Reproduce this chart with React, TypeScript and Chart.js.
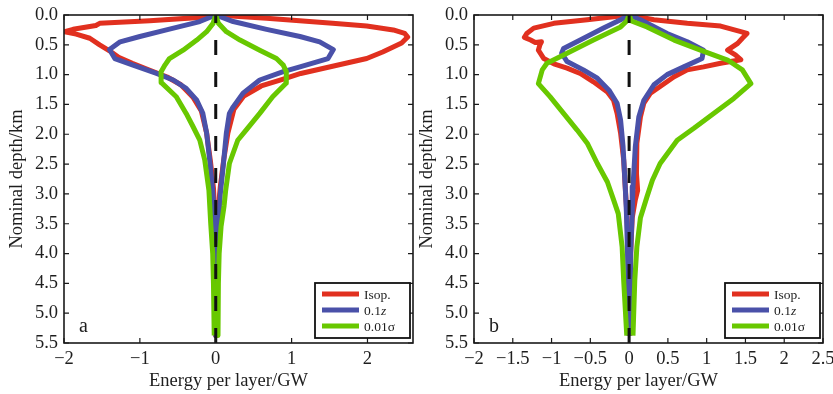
import React, { useEffect, useRef } from "react";
import { Chart, registerables } from "chart.js";

Chart.register(...registerables);

// Each point is [energy per layer (GW), nominal depth (km)].
type Pt = [number, number];

const seriesLabels: string[][] = [["Isop."], ["0.1", "z"], ["0.01σ"]]; // odd parts are italic
const seriesColors = ["#e1301f", "#4a51a9", "#68c800"];

const depthTicks = [0, 0.5, 1, 1.5, 2, 2.5, 3, 3.5, 4, 4.5, 5, 5.5];
const depthRange = [0, 5.5];
const energyTicksA = [-2, -1, 0, 1, 2];
const energyTicksB = [-2, -1.5, -1, -0.5, 0, 0.5, 1, 1.5, 2, 2.5];
const energyRangeA = [-2, 2.6];
const energyRangeB = [-2, 2.5];
const zeroLine: Pt[] = [[0, 0], [0, 5.5]];

// Panel a
const isopLossA: Pt[] = [[0, 0], [-0.21, 0.04], [-0.87, 0.095], [-1.53, 0.14], [-1.58, 0.175], [-1.88, 0.24], [-1.99, 0.28], [-1.84, 0.32], [-1.66, 0.39], [-1.53, 0.5], [-1.4, 0.6], [-1.28, 0.71], [-1.1, 0.81], [-0.86, 0.93], [-0.64, 1.04], [-0.46, 1.17], [-0.3, 1.38], [-0.19, 1.61], [-0.12, 1.98], [-0.07, 2.45], [-0.03, 2.9], [-0.01, 3.4], [0, 4.0], [0, 5.375]];
const isopGainA: Pt[] = [[0, 0], [0.67, 0.056], [1.54, 0.14], [1.99, 0.185], [2.34, 0.25], [2.49, 0.31], [2.53, 0.37], [2.45, 0.47], [2.2, 0.62], [1.99, 0.73], [1.54, 0.86], [1.12, 0.98], [0.88, 1.08], [0.6, 1.19], [0.37, 1.36], [0.24, 1.58], [0.16, 1.98], [0.105, 2.43], [0.06, 2.88], [0.03, 3.3], [0.02, 3.9], [0.01, 4.5], [0.01, 5.375]];
const zLossA: Pt[] = [[0, 0], [-0.21, 0.11], [-0.65, 0.25], [-1.0, 0.36], [-1.26, 0.45], [-1.4, 0.58], [-1.33, 0.73], [-1.09, 0.84], [-0.78, 0.98], [-0.56, 1.09], [-0.39, 1.23], [-0.25, 1.43], [-0.17, 1.65], [-0.12, 1.98], [-0.08, 2.43], [-0.045, 2.88], [-0.02, 3.3], [-0.01, 3.8], [0, 4.5], [0, 5.375]];
const zGainA: Pt[] = [[0, 0], [0.23, 0.11], [0.67, 0.24], [1.11, 0.36], [1.37, 0.45], [1.55, 0.58], [1.48, 0.73], [1.11, 0.87], [0.89, 0.95], [0.58, 1.09], [0.36, 1.31], [0.23, 1.54], [0.18, 1.65], [0.14, 1.98], [0.097, 2.55], [0.06, 3.0], [0.045, 3.4], [0.03, 3.8], [0.02, 4.5], [0.01, 5.375]];
const sigmaLossA: Pt[] = [[0, 0], [-0.02, 0.08], [-0.035, 0.14], [-0.12, 0.28], [-0.25, 0.42], [-0.43, 0.59], [-0.61, 0.73], [-0.67, 0.84], [-0.72, 0.95], [-0.72, 1.13], [-0.52, 1.37], [-0.39, 1.65], [-0.3, 1.87], [-0.21, 2.1], [-0.145, 2.43], [-0.09, 2.94], [-0.066, 3.5], [-0.04, 4.0], [-0.03, 4.5], [-0.02, 5.375]];
const sigmaGainA: Pt[] = [[0, 0], [0.02, 0.08], [0.035, 0.14], [0.14, 0.28], [0.32, 0.42], [0.58, 0.59], [0.8, 0.73], [0.89, 0.84], [0.93, 0.95], [0.93, 1.14], [0.75, 1.37], [0.58, 1.65], [0.4, 1.93], [0.29, 2.1], [0.18, 2.49], [0.13, 2.95], [0.11, 3.2], [0.07, 3.55], [0.045, 4.0], [0.035, 4.5], [0.03, 5.375]];

// Panel b
const isopLossB: Pt[] = [[0, 0], [-0.54, 0.08], [-0.97, 0.14], [-1.23, 0.22], [-1.32, 0.31], [-1.35, 0.375], [-1.27, 0.42], [-1.21, 0.46], [-1.13, 0.45], [-1.15, 0.5], [-1.17, 0.59], [-1.1, 0.73], [-0.97, 0.82], [-0.8, 0.89], [-0.63, 0.98], [-0.46, 1.12], [-0.28, 1.29], [-0.2, 1.43], [-0.155, 1.65], [-0.11, 1.98], [-0.07, 2.43], [-0.05, 2.88], [-0.03, 3.3], [-0.01, 4.0], [0, 5.375]];
const isopGainB: Pt[] = [[0, 0], [0.32, 0.08], [0.75, 0.14], [1.18, 0.185], [1.44, 0.28], [1.52, 0.31], [1.46, 0.39], [1.4, 0.475], [1.27, 0.59], [1.37, 0.67], [1.44, 0.75], [1.18, 0.81], [0.96, 0.87], [0.75, 0.92], [0.58, 1.035], [0.4, 1.2], [0.275, 1.31], [0.19, 1.48], [0.146, 1.71], [0.1, 2.15], [0.095, 2.66], [0.11, 2.94], [0.08, 3.1], [0.04, 3.4], [0.02, 4.0], [0.01, 5.375]];
const zLossB: Pt[] = [[0, 0], [-0.11, 0.08], [-0.33, 0.22], [-0.63, 0.42], [-0.845, 0.56], [-0.87, 0.64], [-0.8, 0.78], [-0.59, 0.92], [-0.41, 1.06], [-0.26, 1.26], [-0.155, 1.48], [-0.11, 1.76], [-0.078, 2.21], [-0.05, 2.88], [-0.035, 3.3], [-0.02, 4.0], [-0.005, 5.375]];
const zGainB: Pt[] = [[0, 0], [0.146, 0.08], [0.49, 0.31], [0.75, 0.45], [0.96, 0.59], [0.94, 0.73], [0.705, 0.87], [0.49, 1.0], [0.32, 1.17], [0.19, 1.43], [0.125, 1.71], [0.08, 2.21], [0.05, 2.88], [0.04, 3.3], [0.02, 4.0], [0.01, 5.375]];
const sigmaLossB: Pt[] = [[0, 0], [-0.03, 0.1], [-0.11, 0.2], [-0.46, 0.42], [-0.8, 0.64], [-1.06, 0.81], [-1.12, 0.92], [-1.17, 1.15], [-1.02, 1.37], [-0.845, 1.65], [-0.67, 1.93], [-0.54, 2.15], [-0.41, 2.49], [-0.28, 2.8], [-0.2, 3.1], [-0.14, 3.33], [-0.09, 3.89], [-0.07, 4.45], [-0.03, 5.375]];
const sigmaGainB: Pt[] = [[0, 0], [0.03, 0.1], [0.23, 0.2], [0.58, 0.42], [0.92, 0.59], [1.27, 0.755], [1.46, 0.92], [1.57, 1.15], [1.35, 1.4], [1.09, 1.65], [0.835, 1.9], [0.62, 2.1], [0.4, 2.49], [0.3, 2.77], [0.23, 3.05], [0.146, 3.4], [0.1, 3.89], [0.073, 4.45], [0.05, 5.375]];

const FONT_FAMILY = '"Liberation Serif", "Times New Roman", Times, serif';
const TEXT_COLOR = "#1e1e1e";

const fmtEnergy = (v: number) => (v < 0 ? "\u2212" + String(Math.abs(v)) : String(v));

// Frame, inward tick marks, inset legend, panel letter and x-axis title.
const panelDecor = {
  id: "panelDecor",
  afterDatasetsDraw(chart: any, _args: any, opts: any) {
    const { ctx, chartArea: a, scales } = chart;
    const xs = scales.x;
    const ys = scales.y;
    ctx.save();

    ctx.strokeStyle = "#1a1a1a";
    ctx.lineWidth = 1.2;
    ctx.beginPath();
    for (const t of xs.ticks) {
      const px = xs.getPixelForValue(t.value);
      ctx.moveTo(px, a.bottom);
      ctx.lineTo(px, a.bottom - 5);
      ctx.moveTo(px, a.top);
      ctx.lineTo(px, a.top + 5);
    }
    for (const t of ys.ticks) {
      const py = ys.getPixelForValue(t.value);
      ctx.moveTo(a.left, py);
      ctx.lineTo(a.left + 5, py);
      ctx.moveTo(a.right, py);
      ctx.lineTo(a.right - 5, py);
    }
    ctx.stroke();

    ctx.lineWidth = 1.6;
    ctx.strokeRect(a.left, a.top, a.right - a.left, a.bottom - a.top);

    // inset legend, bottom right
    const bw = 95;
    const bh = 55;
    const bx = a.right - 3 - bw;
    const by = a.bottom - 5 - bh;
    ctx.fillStyle = "#ffffff";
    ctx.fillRect(bx, by, bw, bh);
    ctx.lineWidth = 1.8;
    ctx.strokeStyle = "#111";
    ctx.strokeRect(bx, by, bw, bh);
    const labels: string[][] = opts.labels;
    const colors: string[] = opts.colors;
    labels.forEach((parts, i) => {
      const ly = by + 11 + i * 16;
      ctx.strokeStyle = colors[i];
      ctx.lineWidth = 5;
      ctx.beginPath();
      ctx.moveTo(bx + 7, ly);
      ctx.lineTo(bx + 44, ly);
      ctx.stroke();
      let tx = bx + 49;
      ctx.fillStyle = TEXT_COLOR;
      ctx.textBaseline = "middle";
      ctx.textAlign = "left";
      parts.forEach((p, j) => {
        ctx.font = (j % 2 === 1 ? "italic " : "") + "13.5px " + FONT_FAMILY;
        ctx.fillText(p, tx, ly + 1);
        tx += ctx.measureText(p).width;
      });
    });

    // panel letter
    ctx.fillStyle = TEXT_COLOR;
    ctx.font = "20px " + FONT_FAMILY;
    ctx.textAlign = "left";
    ctx.textBaseline = "alphabetic";
    ctx.fillText(opts.letter, a.left + 15, a.bottom - 11);

    // x-axis title
    ctx.font = "18.5px " + FONT_FAMILY;
    ctx.textAlign = "center";
    ctx.textBaseline = "middle";
    ctx.fillText(opts.xTitle, (a.left + a.right) / 2 - 10, a.bottom + 38);

    ctx.restore();
  },
};

type PanelProps = {
  left: number;
  width: number;
  rightPad: number;
  letter: string;
  xRange: number[];
  xTicks: number[];
  branches: Pt[][][]; // per series: [loss, gain]
};

function Panel({ left, width, rightPad, letter, xRange, xTicks, branches }: PanelProps) {
  const ref = useRef<HTMLCanvasElement | null>(null);

  useEffect(() => {
    if (!ref.current) return;
    const font = { family: FONT_FAMILY, size: 18.5 };
    const datasets: any[] = [];
    branches.forEach((pair, i) => {
      pair.forEach((pts) => {
        datasets.push({
          label: seriesLabels[i].join(""),
          data: pts.map(([e, d]) => ({ x: e, y: d })),
          showLine: true,
          borderColor: seriesColors[i],
          backgroundColor: seriesColors[i],
          borderWidth: 5,
          borderJoinStyle: "round",
          pointRadius: 0,
          tension: 0,
          order: 3 - i,
        });
      });
    });
    datasets.push({
      label: "zero",
      data: zeroLine.map(([e, d]) => ({ x: e, y: d })),
      showLine: true,
      borderColor: "#111",
      borderWidth: 3,
      borderDash: [15, 17],
      borderDashOffset: 7,
      pointRadius: 0,
      order: 0,
    });

    const chart = new Chart(ref.current, {
      type: "scatter",
      data: { datasets },
      options: {
        animation: false,
        responsive: false,
        maintainAspectRatio: false,
        layout: { padding: { top: 15, right: rightPad, bottom: 0, left: 0 } },
        plugins: {
          legend: { display: false },
          tooltip: { enabled: false },
          panelDecor: {
            labels: seriesLabels,
            colors: seriesColors,
            letter,
            xTitle: "Energy per layer/GW",
          },
        } as any,
        scales: {
          x: {
            type: "linear",
            min: xRange[0],
            max: xRange[1],
            afterBuildTicks: (s: any) => {
              s.ticks = xTicks.map((v) => ({ value: v }));
            },
            afterFit: (s: any) => {
              s.height = 51;
              s.paddingLeft = 0;
              s.paddingRight = 0;
            },
            grid: { display: false, drawTicks: false },
            border: { display: false },
            ticks: {
              padding: 5,
              color: TEXT_COLOR,
              font,
              autoSkip: false,
              maxRotation: 0,
              callback: (v: any) => fmtEnergy(Number(v)),
            },
          },
          y: {
            type: "linear",
            min: depthRange[0],
            max: depthRange[1],
            reverse: true,
            afterBuildTicks: (s: any) => {
              s.ticks = depthTicks.map((v) => ({ value: v }));
            },
            afterFit: (s: any) => {
              s.width = 64;
              s.paddingTop = 0;
              s.paddingBottom = 0;
            },
            grid: { display: false, drawTicks: false },
            border: { display: false },
            ticks: {
              padding: 6,
              color: TEXT_COLOR,
              font,
              autoSkip: false,
              callback: (v: any) => Number(v).toFixed(1),
            },
            title: {
              display: true,
              text: "Nominal depth/km",
              color: TEXT_COLOR,
              font,
              padding: { top: 6, bottom: 0 },
            },
          },
        },
      },
      plugins: [panelDecor],
    });
    return () => chart.destroy();
  }, []);

  return (
    <canvas
      ref={ref}
      width={width}
      height={394}
      style={{ position: "absolute", left, top: 0, width, height: 394 }}
    />
  );
}

export default function App() {
  return (
    <div style={{ position: "absolute", left: 0, top: 0, width: 833, height: 394, background: "#fff" }}>
      <Panel
        left={0}
        width={418}
        rightPad={5}
        letter="a"
        xRange={energyRangeA}
        xTicks={energyTicksA}
        branches={[[isopLossA, isopGainA], [zLossA, zGainA], [sigmaLossA, sigmaGainA]]}
      />
      <Panel
        left={410}
        width={423}
        rightPad={10}
        letter="b"
        xRange={energyRangeB}
        xTicks={energyTicksB}
        branches={[[isopLossB, isopGainB], [zLossB, zGainB], [sigmaLossB, sigmaGainB]]}
      />
    </div>
  );
}
